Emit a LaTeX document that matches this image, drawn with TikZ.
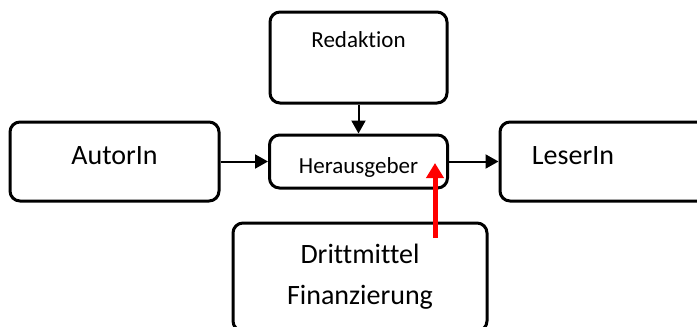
\documentclass[tikz,border=0pt]{standalone}
\usepackage{fontspec}
\setmainfont[Ligatures={NoCommon}]{Carlito}
\usepackage{tikz}
\usetikzlibrary{shapes.geometric, arrows.meta}
\tikzstyle{block} = [rectangle, rounded corners=5pt, line width=1.5pt, draw=black, text centered, inner sep=0pt]
\tikzstyle{arrow} = [line width=1pt, -{Triangle[length=6.5pt,width=7pt]}]
\tikzstyle{geldarrow} = [line width=2.5pt, draw=red, -{Triangle[length=7.5pt,width=8.5pt,fill=red]}]

\begin{document}
\begin{tikzpicture}[x=0.5pt, y=-0.5pt]
        \useasboundingbox (0,0) rectangle (697,327);
        \clip (0,0) rectangle (697,327);
        \node (redaktion) [block, minimum width=88.5pt, minimum height=45.5pt, text depth=17.5pt, font=\fontsize{11.5}{14}\selectfont] at (358.5,57.5) {Redaktion};
        \node (herausgeber) [block, minimum width=89pt, minimum height=26.5pt, text height=14pt, text depth=2.3pt, font=\fontsize{11.5}{14}\selectfont] at (358.5,161.5) {Herausgeber};
        \node (autor) [block, minimum width=104.5pt, minimum height=39.5pt, text depth=5.5pt, font=\fontsize{14}{17}\selectfont] at (114.5,161.5) {AutorIn};
        \node (leser) [block, minimum width=130pt, minimum height=39.5pt, label={[xshift=-28.5pt, yshift=2.75pt, font=\fontsize{14}{17}\selectfont]center:LeserIn}] at (630,161.5) {};
        \node (dritt) [block, minimum width=127pt, minimum height=54pt, align=center, font=\fontsize{14}{20.5}\selectfont] at (360,277) {Drittmittel\\Finanzierung};

        \draw [arrow] (redaktion.south) -- (herausgeber.north);
        \draw [arrow] (autor) -- (herausgeber);
        \draw [arrow] (herausgeber) -- (leser);

        \coordinate (geld) at (435,238);
        \coordinate (geldziel) at (435,163);
        \draw [geldarrow] (geld) -- (geldziel);
    \end{tikzpicture}
\end{document}
